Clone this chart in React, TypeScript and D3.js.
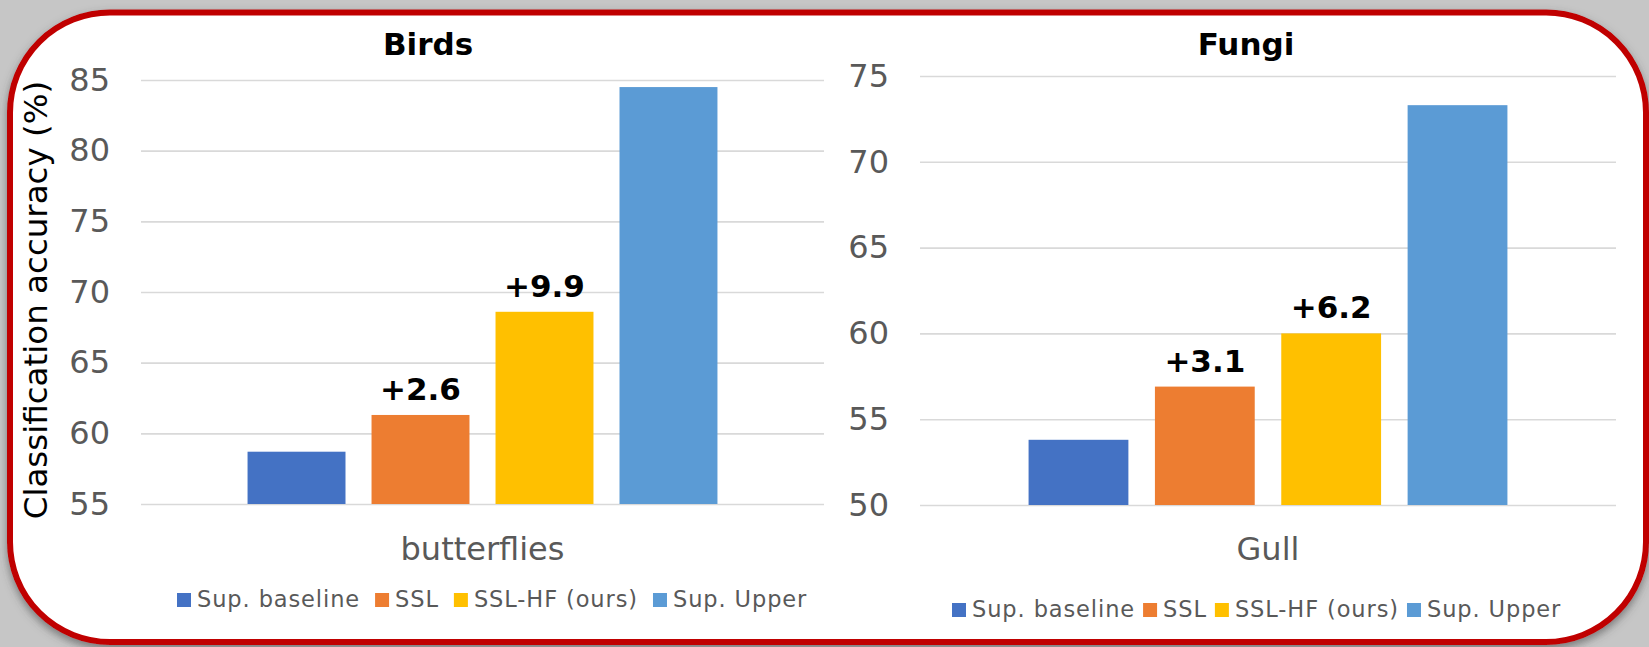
import React, { useEffect, useRef } from "react";
import * as d3 from "d3";

// series shared by both panels
const seriesNames = ["Sup. baseline", "SSL", "SSL-HF (ours)", "Sup. Upper"];
const seriesColors = ["#4472C4", "#ED7D31", "#FFC000", "#5B9BD5"];

// Birds panel
const birdsCategories = ["butterflies"];
const birdsValues = [58.7, 61.3, 68.6, 84.5];
const birdsTicks = [55, 60, 65, 70, 75, 80, 85];
const birdsGains = ["", "+2.6", "+9.9", ""];

// Fungi panel
const fungiCategories = ["Gull"];
const fungiValues = [53.8, 56.9, 60.0, 73.3];
const fungiTicks = [50, 55, 60, 65, 70, 75];
const fungiGains = ["", "+3.1", "+6.2", ""];

const FONT = "'DejaVu Sans', Verdana, sans-serif";
const GREY = "#595959";

type Panel = {
  title: string;
  titleX: number;
  categories: string[];
  values: number[];
  ticks: number[];
  gains: string[];
  left: number;
  right: number;
  top: number;
  bottom: number;
  legendX: number;
  legendY: number;
  legendGap: number;
};

const panels: Panel[] = [
  {
    title: "Birds",
    titleX: 428,
    categories: birdsCategories,
    values: birdsValues,
    ticks: birdsTicks,
    gains: birdsGains,
    left: 141,
    right: 824,
    top: 80,
    bottom: 504,
    legendX: 177,
    legendY: 607,
    legendGap: 15
  },
  {
    title: "Fungi",
    titleX: 1246,
    categories: fungiCategories,
    values: fungiValues,
    ticks: fungiTicks,
    gains: fungiGains,
    left: 920,
    right: 1616,
    top: 76,
    bottom: 505,
    legendX: 952,
    legendY: 617,
    legendGap: 8
  }
];

function drawPanel(svg: d3.Selection<SVGSVGElement, unknown, null, undefined>, p: Panel) {
  const g = svg.append("g");

  const y = d3
    .scaleLinear()
    .domain([p.ticks[0], p.ticks[p.ticks.length - 1]])
    .range([p.bottom, p.top]);

  const x0 = d3.scaleBand().domain(p.categories).range([p.left, p.right]);

  // grid + tick labels
  const yAxis = g
    .append("g")
    .attr("transform", "translate(" + p.left + ",0)")
    .call(
      d3
        .axisLeft(y)
        .tickValues(p.ticks)
        .tickSize(-(p.right - p.left))
        .tickPadding(31)
    );
  yAxis.select(".domain").remove();
  yAxis.selectAll(".tick line").attr("stroke", "#d9d9d9").attr("stroke-width", 1.6);
  yAxis
    .selectAll(".tick text")
    .attr("fill", GREY)
    .style("font-family", FONT)
    .style("font-size", "32px");

  // title
  g.append("text")
    .attr("x", p.titleX)
    .attr("y", 55)
    .attr("text-anchor", "middle")
    .style("font-family", FONT)
    .style("font-size", "31px")
    .style("font-weight", "bold")
    .attr("fill", "#000")
    .text(p.title);

  p.categories.forEach(cat => {
    const bw = x0.bandwidth();
    const groupW = bw * 0.688;
    const start = (x0(cat) as number) + (bw - groupW) / 2;
    const x1 = d3
      .scaleBand()
      .domain(seriesNames)
      .range([start, start + groupW])
      .paddingInner(0.21);

    const rows = seriesNames.map((s, i) => ({
      name: s,
      value: p.values[i],
      color: seriesColors[i],
      gain: p.gains[i]
    }));

    g.selectAll(".bar-" + cat)
      .data(rows)
      .enter()
      .append("rect")
      .attr("x", d => x1(d.name) as number)
      .attr("width", x1.bandwidth())
      .attr("y", d => y(d.value))
      .attr("height", d => y(p.ticks[0]) - y(d.value))
      .attr("fill", d => d.color);

    g.selectAll(".gain-" + cat)
      .data(rows.filter(d => d.gain !== ""))
      .enter()
      .append("text")
      .attr("x", d => (x1(d.name) as number) + x1.bandwidth() / 2)
      .attr("y", d => y(d.value) - 15)
      .attr("text-anchor", "middle")
      .style("font-family", FONT)
      .style("font-size", "31px")
      .style("font-weight", "bold")
      .attr("fill", "#000")
      .text(d => d.gain);

    g.append("text")
      .attr("x", (x0(cat) as number) + bw / 2)
      .attr("y", 560)
      .attr("text-anchor", "middle")
      .style("font-family", FONT)
      .style("font-size", "32px")
      .attr("fill", GREY)
      .text(cat);
  });

  // legend, laid out from measured text widths
  const legend = g.append("g");
  let cx = p.legendX;
  seriesNames.forEach((s, i) => {
    legend
      .append("rect")
      .attr("x", cx)
      .attr("y", p.legendY - 14)
      .attr("width", 14)
      .attr("height", 14)
      .attr("fill", seriesColors[i]);
    const t = legend
      .append("text")
      .attr("x", cx + 20)
      .attr("y", p.legendY)
      .style("font-family", FONT)
      .style("font-size", "22.5px")
      .style("letter-spacing", "0.9px")
      .attr("fill", GREY)
      .text(s);
    const w = (t.node() as SVGTextElement).getComputedTextLength();
    cx += 20 + w + p.legendGap;
  });
}

export default function App() {
  const ref = useRef<SVGSVGElement>(null);

  useEffect(() => {
    const svg = d3.select(ref.current as SVGSVGElement);
    svg.selectAll("*").remove();

    const defs = svg.append("defs");
    const f = defs
      .append("filter")
      .attr("id", "shadow")
      .attr("x", "-5%")
      .attr("y", "-5%")
      .attr("width", "110%")
      .attr("height", "115%");
    f.append("feDropShadow")
      .attr("dx", 0)
      .attr("dy", 4)
      .attr("stdDeviation", 4)
      .attr("flood-color", "#444")
      .attr("flood-opacity", 0.6);

    svg
      .append("rect")
      .attr("width", 1649)
      .attr("height", 647)
      .attr("fill", "#c6c6c6");

    svg
      .append("rect")
      .attr("x", 10)
      .attr("y", 12.5)
      .attr("width", 1636)
      .attr("height", 629.5)
      .attr("rx", 100)
      .attr("ry", 100)
      .attr("fill", "#fff")
      .attr("stroke", "#C00000")
      .attr("stroke-width", 6)
      .attr("filter", "url(#shadow)");

    // shared y axis title
    svg
      .append("text")
      .attr("transform", "translate(47,300) rotate(-90)")
      .attr("text-anchor", "middle")
      .style("font-family", FONT)
      .style("font-size", "32.5px")
      .attr("fill", "#000")
      .text("Classification accuracy (%)");

    panels.forEach(p => drawPanel(svg, p));
  }, []);

  return (
    <>
      <style>{"body{margin:0;overflow:hidden}"}</style>
      <svg ref={ref} width={1649} height={647} style={{ display: "block" }} />
    </>
  );
}
